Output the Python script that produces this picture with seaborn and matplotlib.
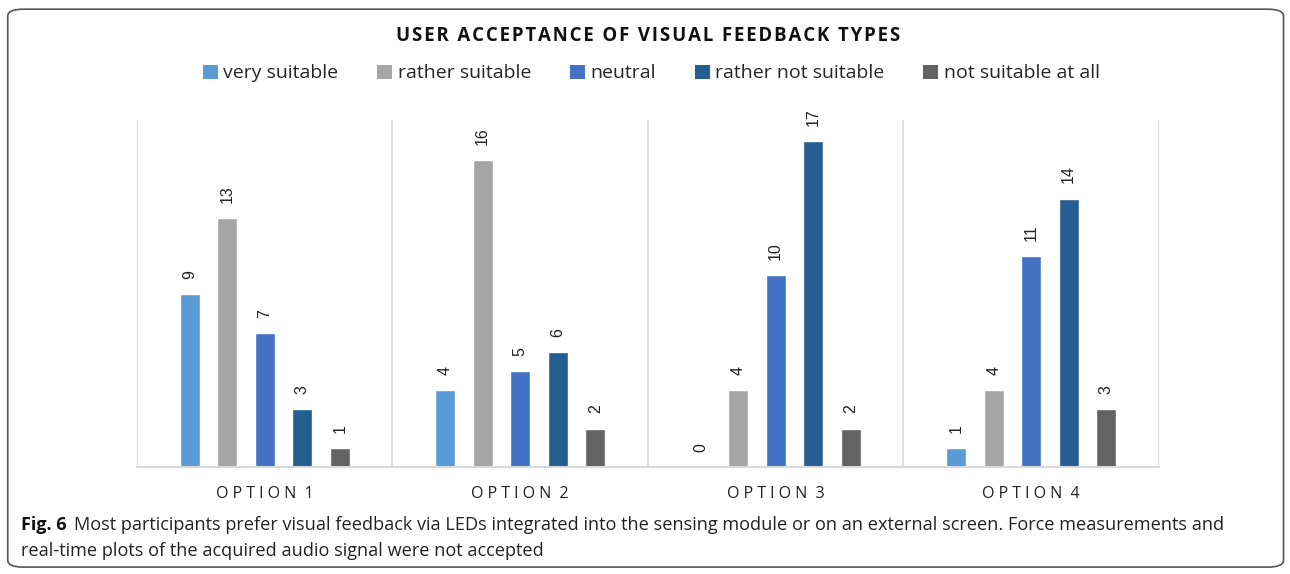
import matplotlib
matplotlib.use('Agg')
import pandas as pd
import seaborn as sns
import matplotlib.pyplot as plt
from matplotlib.patches import FancyBboxPatch, Patch

# chart data
options = ['OPTION 1', 'OPTION 2', 'OPTION 3', 'OPTION 4']
categories = ['very suitable', 'rather suitable', 'neutral', 'rather not suitable', 'not suitable at all']
very_suitable = [9, 4, 0, 1]
rather_suitable = [13, 16, 4, 4]
neutral = [7, 5, 10, 11]
rather_not_suitable = [3, 6, 17, 14]
not_suitable_at_all = [1, 2, 2, 3]
colors = ['#5B9BD5', '#A5A5A5', '#4472C4', '#255E91', '#636363']

series = [very_suitable, rather_suitable, neutral, rather_not_suitable, not_suitable_at_all]
rows = []
for cat, vals in zip(categories, series):
    for opt, v in zip(options, vals):
        rows.append({'option': opt, 'category': cat, 'count': v})
df = pd.DataFrame(rows)

sns.set_style('white')
plt.rcParams['font.family'] = ['Open Sans', 'DejaVu Sans']

fig = plt.figure(figsize=(12.9, 5.74), dpi=100)
ax = fig.add_axes([0.1062, 0.1864, 0.7922, 0.6045])

sns.barplot(data=df, x='option', y='count', hue='category', hue_order=categories,
            palette=colors, width=0.735, gap=0.47, legend=False, ax=ax, saturation=1)

for cont in ax.containers:
    ax.bar_label(cont, rotation=90, padding=11, fontsize=11.5, family='Liberation Sans', color='#222222')

ax.set_ylim(0, 18.1)
ax.set_xlim(-0.5, 3.5)
ax.set_yticks([])
ax.set_xlabel('')
ax.set_ylabel('')
for s in ['top', 'right', 'left']:
    ax.spines[s].set_visible(False)
ax.spines['bottom'].set_color('#d9d9d9')
ax.spines['bottom'].set_linewidth(1.5)
for xv in [-0.5, 0.5, 1.5, 2.5, 3.5]:
    ax.axvline(xv, color='#d9d9d9', lw=1.2, zorder=0)

spaced = ['  '.join(' '.join(w) for w in o.split(' ')) for o in options]
ax.set_xticks(range(len(options)))
ax.set_xticklabels(spaced, fontsize=11.5, color='#222222')
ax.tick_params(axis='x', length=0, pad=14)

title = '\u200a'.join('USER ACCEPTANCE OF VISUAL FEEDBACK TYPES')
fig.text(0.5025, 0.938, title, ha='center', va='center', fontsize=13.4, fontweight='bold', color='#111111')

handles = [Patch(facecolor=c, edgecolor='none', label=l) for c, l in zip(colors, categories)]
fig.legend(handles=handles, loc='center', bbox_to_anchor=(0.505, 0.872), ncol=5, frameon=False,
           fontsize=14, handlelength=0.75, handleheight=0.75, handletextpad=0.3, columnspacing=2.0)

# caption
fig.text(0.0163, 0.085, 'Fig. 6', fontsize=13, fontweight='bold', va='center', color='#111111')
fig.text(0.0575, 0.085, 'Most participants prefer visual feedback via LEDs integrated into the sensing module or on an external screen. Force measurements and',
         fontsize=13.1, va='center', color='#222222')
fig.text(0.0163, 0.040, 'real-time plots of the acquired audio signal were not accepted',
         fontsize=13.1, va='center', color='#222222')

box = FancyBboxPatch((0.006, 0.012), 0.989, 0.972, boxstyle='round,pad=0,rounding_size=0.012',
                     transform=fig.transFigure, facecolor='none', edgecolor='#555555', lw=1.2)
fig.patches.append(box)

plt.savefig('out.png', dpi=100)
